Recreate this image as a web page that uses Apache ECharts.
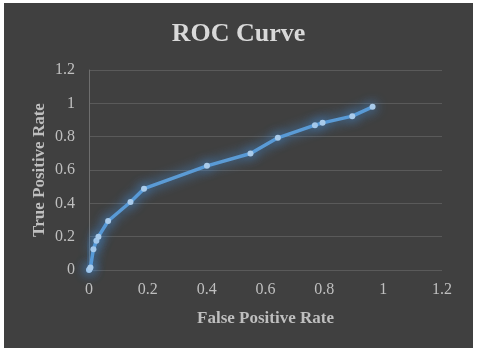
<!DOCTYPE html>
<html>
<head>
<meta charset="utf-8">
<script src="https://cdn.jsdelivr.net/npm/echarts@6/dist/echarts.min.js"></script>
<style>
html, body { margin: 0; padding: 0; background: #ffffff; }
#wrap { position: relative; width: 480px; height: 353px; background: #ffffff; }
#plot { position: absolute; left: 4px; top: 3px; width: 469px; height: 345px; }
</style>
</head>
<body>
<div id="wrap"><div id="plot"></div></div>
<script>
// ROC points
var fpr = [0, 0.002, 0.005, 0.015, 0.025, 0.032, 0.065, 0.141, 0.187, 0.401, 0.549, 0.642, 0.768, 0.794, 0.895, 0.964];
var tpr = [0, 0.005, 0.015, 0.124, 0.176, 0.2, 0.294, 0.408, 0.488, 0.625, 0.699, 0.793, 0.869, 0.883, 0.923, 0.979];

var title = 'ROC Curve';
var xName = 'False Positive Rate';
var yName = 'True Positive Rate';

var serif = '"Liberation Serif", "DejaVu Serif", serif';

var points = [];
for (var i = 0; i < fpr.length; i++) {
	points.push([fpr[i], tpr[i]]);
}

var option = {
	backgroundColor: '#404040',
	animation: false,
	title: {
		text: title,
		left: 'center',
		top: 13,
		textStyle: {
			fontFamily: serif,
			fontSize: 26,
			fontWeight: 'bold',
			color: '#d9d9d9'
		}
	},
	grid: {
		left: 85,
		right: 31,
		top: 67,
		bottom: 78
	},
	xAxis: {
		type: 'value',
		min: 0,
		max: 1.2,
		interval: 0.2,
		name: xName,
		nameLocation: 'middle',
		nameGap: 40,
		nameMoveOverlap: false,
		nameTextStyle: { fontFamily: serif, fontSize: 17, fontWeight: 'bold', color: '#bfbfbf' },
		axisLine: { show: false },
		axisTick: { show: false },
		splitLine: { show: false },
		axisLabel: { fontFamily: serif, fontSize: 16, color: '#bfbfbf', margin: 12 }
	},
	yAxis: {
		type: 'value',
		min: 0,
		max: 1.2,
		interval: 0.2,
		name: yName,
		nameLocation: 'middle',
		nameGap: 41,
		nameMoveOverlap: false,
		nameTextStyle: { fontFamily: serif, fontSize: 17, fontWeight: 'bold', color: '#bfbfbf' },
		axisLine: { show: true, lineStyle: { color: '#6e6e6e', width: 1 } },
		axisTick: { show: false },
		splitLine: { lineStyle: { color: '#5a5a5a', width: 1 } },
		axisLabel: { fontFamily: serif, fontSize: 16, color: '#bfbfbf', margin: 14 }
	},
	series: [
		{
			type: 'line',
			data: points,
			smooth: false,
			symbol: 'circle',
			symbolSize: 6,
			lineStyle: {
				color: '#5b9bd5',
				width: 3.5,
				shadowBlur: 12,
				shadowColor: 'rgba(70,150,230,1)'
			},
			itemStyle: {
				color: '#a9cbeb',
				borderWidth: 0,
				shadowBlur: 12,
				shadowColor: 'rgba(70,150,230,1)'
			}
		}
	]
};

var myChart = echarts.init(document.getElementById('plot'));
myChart.setOption(option);
</script>
</body>
</html>
